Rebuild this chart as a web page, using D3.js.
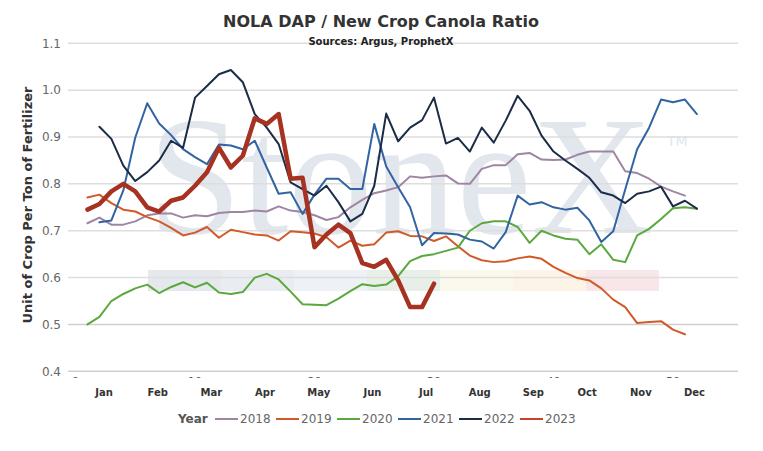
<!DOCTYPE html>
<html>
<head>
<meta charset="utf-8">
<script src="https://cdn.jsdelivr.net/npm/d3@7"></script>
<style>
  html, body { margin: 0; padding: 0; background: #fff; }
  #canvas { width: 763px; height: 451px; }
  text { font-family: "DejaVu Sans", Verdana, sans-serif; }
</style>
</head>
<body>
<div id="canvas"></div>
<script>
// weekly ratio by year, weeks are 1-based
let years = ["2018", "2019", "2020", "2021", "2022", "2023"];
let firstWeek = { "2018": 1, "2019": 1, "2020": 1, "2021": 2, "2022": 2, "2023": 1 };

let v2018 = [0.716, 0.728, 0.713, 0.713, 0.72, 0.733, 0.737, 0.737, 0.728, 0.733,
  0.731, 0.738, 0.74, 0.74, 0.743, 0.741, 0.752, 0.743, 0.74, 0.733,
  0.723, 0.729, 0.75, 0.766, 0.78, 0.786, 0.793, 0.816, 0.813, 0.816,
  0.818, 0.801, 0.80, 0.832, 0.84, 0.84, 0.863, 0.866, 0.852, 0.851,
  0.852, 0.862, 0.869, 0.869, 0.869, 0.827, 0.823, 0.811, 0.794, 0.784, 0.775];
let v2019 = [0.771, 0.777, 0.759, 0.745, 0.741, 0.729, 0.72, 0.706, 0.69, 0.696,
  0.708, 0.685, 0.702, 0.697, 0.692, 0.69, 0.679, 0.699, 0.697, 0.694,
  0.686, 0.664, 0.679, 0.668, 0.671, 0.696, 0.699, 0.689, 0.688, 0.678,
  0.688, 0.667, 0.647, 0.637, 0.633, 0.635, 0.641, 0.645, 0.64, 0.623,
  0.61, 0.599, 0.594, 0.577, 0.553, 0.537, 0.503, 0.505, 0.507, 0.489, 0.479];
let v2020 = [0.50, 0.516, 0.55, 0.565, 0.577, 0.585, 0.567, 0.58, 0.59, 0.579,
  0.589, 0.568, 0.565, 0.569, 0.60, 0.608, 0.596, 0.57, 0.543, 0.542,
  0.541, 0.555, 0.571, 0.586, 0.582, 0.585, 0.603, 0.635, 0.646, 0.65,
  0.657, 0.664, 0.70, 0.716, 0.72, 0.72, 0.708, 0.674, 0.70, 0.69,
  0.683, 0.681, 0.65, 0.671, 0.638, 0.633, 0.69, 0.704, 0.725, 0.748, 0.75, 0.747];
let v2021 = [0.718, 0.722, 0.786, 0.899, 0.972, 0.929, 0.904, 0.874, 0.857,
  0.842, 0.884, 0.882, 0.874, 0.892, 0.835, 0.779, 0.782, 0.736, 0.777,
  0.811, 0.811, 0.789, 0.789, 0.928, 0.837, 0.793, 0.75, 0.669, 0.695,
  0.694, 0.692, 0.681, 0.677, 0.662, 0.697, 0.775, 0.756, 0.761, 0.75,
  0.745, 0.749, 0.722, 0.676, 0.699, 0.788, 0.874, 0.92, 0.98, 0.974, 0.98, 0.949];
let v2022 = [0.922, 0.896, 0.839, 0.806, 0.825, 0.85, 0.892, 0.877, 0.984,
  1.009, 1.034, 1.043, 1.017, 0.949, 0.92, 0.885, 0.803, 0.789, 0.775,
  0.796, 0.761, 0.72, 0.736, 0.796, 0.95, 0.891, 0.92, 0.936, 0.984,
  0.886, 0.898, 0.869, 0.92, 0.888, 0.935, 0.988, 0.956, 0.903, 0.869,
  0.85, 0.832, 0.813, 0.782, 0.775, 0.759, 0.779, 0.784, 0.794, 0.752, 0.764, 0.747];
let v2023 = [0.745, 0.757, 0.784, 0.80, 0.784, 0.75, 0.741, 0.764, 0.771, 0.796,
  0.825, 0.877, 0.835, 0.86, 0.94, 0.928, 0.949, 0.811, 0.813, 0.665,
  0.692, 0.713, 0.695, 0.631, 0.623, 0.638, 0.594, 0.537, 0.537, 0.587];

let values = { "2018": v2018, "2019": v2019, "2020": v2020, "2021": v2021, "2022": v2022, "2023": v2023 };
let colors = { "2018": "#9e86a3", "2019": "#d05a28", "2020": "#5ba83e", "2021": "#3164a0", "2022": "#1b2c46", "2023": "#a63222" };
let legendColors = { "2018": "#9e86a3", "2019": "#d05a28", "2020": "#5ba83e", "2021": "#3164a0", "2022": "#1b2c46", "2023": "#c4462a" };

let months = ["Jan", "Feb", "Mar", "Apr", "May", "Jun", "Jul", "Aug", "Sep", "Oct", "Nov", "Dec"];
let yTicks = [0.4, 0.5, 0.6, 0.7, 0.8, 0.9, 1.0, 1.1];
let weekTicks = [0, 10, 20, 30, 40, 50];
let bandColors = ["#e5e9ee", "#e9edf2", "#eef2f6", "#e8efe9", "#fbf9ec", "#fdf3e6", "#f9e6e8"];

let svg = d3
  .select("#canvas")
  .append("svg")
  .attr("width", 763)
  .attr("height", 451);

let x = d3.scaleLinear().domain([-0.63, 55.44]).range([68, 738]);
let y = d3.scaleLinear().domain([0.4, 1.1]).range([371.3, 43.3]);
let xMonth = d3.scalePoint().domain(months).range([x(2.38), x(51.8)]);

// watermark
let wm = svg.append("g");
wm.selectAll("rect")
  .data(bandColors)
  .join("rect")
  .attr("x", (d, i) => 148 + i * 73)
  .attr("y", 270)
  .attr("width", 73)
  .attr("height", 21)
  .attr("fill", (d) => d);
wm.append("text")
  .attr("x", 148)
  .attr("y", 233)
  .style("font-family", "'Liberation Serif', serif")
  .attr("font-size", 170)
  .attr("textLength", 505)
  .attr("lengthAdjust", "spacingAndGlyphs")
  .attr("fill", "#e2e7ee")
  .text("StoneX");
wm.append("text")
  .attr("x", 667)
  .attr("y", 146)
  .attr("font-size", 14)
  .attr("fill", "#e2e7ee")
  .text("TM");

// grid
svg.append("g")
  .selectAll("line")
  .data(yTicks)
  .join("line")
  .attr("x1", 68)
  .attr("x2", 738)
  .attr("y1", (d) => y(d))
  .attr("y2", (d) => y(d))
  .attr("stroke", (d) => (d <= 0.5 ? "#cfcfcf" : "#dedede"))
  .attr("stroke-width", 1.5);

// y tick labels
svg.append("g")
  .selectAll("text")
  .data(yTicks)
  .join("text")
  .attr("x", 61)
  .attr("y", (d) => y(d))
  .attr("dy", "0.35em")
  .attr("text-anchor", "end")
  .attr("font-size", 12)
  .attr("fill", "#666")
  .text((d) => d3.format(".1f")(d));

// week labels that sit cut off under the axis
svg.append("clipPath")
  .attr("id", "cut")
  .append("rect")
  .attr("x", 60)
  .attr("y", 375.5)
  .attr("width", 690)
  .attr("height", 2.5);
svg.append("g")
  .attr("clip-path", "url(#cut)")
  .selectAll("text")
  .data(weekTicks)
  .join("text")
  .attr("x", (d) => x(d))
  .attr("y", 385)
  .attr("text-anchor", "middle")
  .attr("font-size", 11)
  .attr("fill", "#555")
  .text((d) => d);

// month labels
svg.append("g")
  .selectAll("text")
  .data(months)
  .join("text")
  .attr("x", (d) => xMonth(d))
  .attr("y", 395.5)
  .attr("text-anchor", "middle")
  .attr("font-size", 10)
  .attr("font-weight", "bold")
  .attr("fill", "#333")
  .text((d) => d);

// lines
let line = d3
  .line()
  .x((d) => x(d.week))
  .y((d) => y(d.value));

let series = years.map((yr) => ({
  year: yr,
  points: values[yr].map((v, i) => ({ week: firstWeek[yr] + i, value: v })),
}));

svg.append("g")
  .selectAll("path")
  .data(series)
  .join("path")
  .attr("d", (d) => line(d.points))
  .attr("fill", "none")
  .attr("stroke", (d) => colors[d.year])
  .attr("stroke-width", (d) => (d.year === "2023" ? 4.5 : 2))
  .attr("stroke-linejoin", "round")
  .attr("stroke-linecap", "round");

// titles
svg.append("text")
  .attr("x", 381)
  .attr("y", 27)
  .attr("text-anchor", "middle")
  .attr("font-size", 16)
  .attr("font-weight", "bold")
  .attr("fill", "#333")
  .text("NOLA DAP / New Crop Canola Ratio");
svg.append("text")
  .attr("x", 381)
  .attr("y", 44.5)
  .attr("text-anchor", "middle")
  .attr("font-size", 10)
  .attr("font-weight", "bold")
  .attr("fill", "#222")
  .text("Sources: Argus, ProphetX");
svg.append("text")
  .attr("transform", "translate(32,205) rotate(-90)")
  .attr("text-anchor", "middle")
  .attr("font-size", 13)
  .attr("font-weight", "bold")
  .attr("fill", "#333")
  .text("Unit of Crop Per Ton of Fertilizer");

// legend
let legend = svg.append("g").attr("transform", "translate(0,419)");
legend.append("text")
  .attr("x", 178)
  .attr("dy", "0.35em")
  .attr("font-size", 12)
  .attr("font-weight", "bold")
  .attr("fill", "#555")
  .text("Year");
let items = legend
  .selectAll("g.item")
  .data(years)
  .join("g")
  .attr("class", "item")
  .attr("transform", (d, i) => `translate(${215 + i * 61},0)`);
items.append("line")
  .attr("x1", 0)
  .attr("x2", 23)
  .attr("stroke", (d) => legendColors[d])
  .attr("stroke-width", 2);
items.append("text")
  .attr("x", 25)
  .attr("dy", "0.35em")
  .attr("font-size", 12)
  .attr("fill", "#666")
  .text((d) => d);
</script>
</body>
</html>
